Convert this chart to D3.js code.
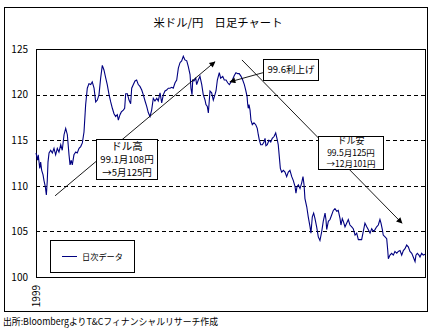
<!DOCTYPE html>
<html><head><meta charset="utf-8">
<script src="https://cdn.jsdelivr.net/npm/d3@7"></script>
<style>body{margin:0;background:#fff}svg{display:block}text{font-family:"Noto Sans CJK JP","Liberation Sans",sans-serif;fill:#000}</style>
</head><body>
<script>
const title = "米ドル/円　日足チャート";
const source = "出所:BloombergよりT&Cフィナンシャルリサーチ作成";
const legendLabel = "日次データ";
const yearLabel = "1999";
const yTicks = [100, 105, 110, 115, 120, 125];
const gridValues = [105, 110, 115, 120];
// trading-day index in 1999 (0..260) and USD/JPY close
const days = [0,1,1.5,2.5,3.1,3.8,4.7,5.3,6.2,6.9,7.5,8,8.7,9.8,10.9,12,13.1,14.2,15.3,16.5,17.5,18.7,19.8,20.9,22,22.7,23.5,24.2,25.3,26.5,27.5,28.7,29.8,30.9,32,33.1,34.2,35.3,36.5,37.5,38.7,39.8,40.9,42,43.1,44.2,45.3,46.5,47.5,48.7,49.8,50.9,52,53.1,54.2,54.9,56,56.9,58.2,59.1,59.8,60.9,62,63.1,63.8,64.9,66,67.1,68.2,69.3,70.5,71.5,72.7,73.8,74.9,76,77.1,78.2,79.3,80.5,81.5,82.7,83.8,84.9,86,87.1,88.2,89.3,90.5,91.5,92.7,93.8,94.9,96,97.1,98.2,99.3,100.5,101.5,102.7,103.3,104,104.5,105.3,106.5,107.1,108.2,109.3,110.5,111.5,112.7,113.3,114.2,114.9,115.5,116,117.1,118.2,119.3,120,120.9,122.2,123.1,124.5,125.5,126.7,127.8,128.9,130.9,132.2,133.3,134.5,135.5,136.7,137.8,138.9,139.8,140.7,141.1,141.5,142,142.7,143.3,144.2,145.3,146.5,147.5,148.2,148.9,149.8,150.9,152,152.7,153.3,154.2,155.3,156.5,157.5,158.7,159.8,160.9,161.5,162.2,162.9,163.8,164.9,166,167.1,168.2,169.3,170.5,171.5,172.7,173.3,174,174.9,176,177.1,178,178.7,179.3,180.5,181.5,182.7,183.3,184.2,185.1,186,187.1,188.2,189.3,190.5,191.5,192.7,193.3,193.8,194.9,196,197.1,198.2,199.3,200.5,201.5,202.7,203.3,204.2,204.9,206,207.1,208.2,209.3,210.5,211.5,212.7,213.8,214.9,216,217.1,218.2,219.3,220.5,221.5,222.7,223.8,224.9,226,227.1,228.2,229.3,230,230.9,231.5,232.7,233.8,234.5,234.9,236,237.1,238.2,239.3,240.5,241.5,242.7,243.8,244.9,246,247.1,248.2,249.3,250.5,251.5,252.7,253.3,254.2,255.3,256,257.1,258.2,259.3];
const rates = [113.6,112.8,113.4,111.9,112.6,111.7,111.2,110.6,109.9,109.0,110.5,112.6,113.6,113.9,113.6,114.1,113.4,114.1,113.7,114.5,113.9,115.6,116.3,115.6,113.4,112.3,112.8,112.3,113.4,113.7,113.6,114.1,114.3,114.7,115.9,118.9,120.7,121.2,121.1,121.4,120.7,119.2,119.4,120.0,121.8,123.2,122.7,121.8,121.1,120.0,119.2,118.5,117.9,117.6,117.8,117.2,117.8,118.1,118.3,118.5,120.1,120.1,119.4,119.0,120.7,121.1,121.5,121.6,121.1,120.9,120.5,120.0,119.3,118.7,118.0,117.6,118.3,119.6,119.3,119.6,119.3,120.2,119.1,120.0,120.4,120.5,120.7,120.7,120.8,120.7,121.3,121.6,122.9,123.5,123.7,124.2,123.8,123.7,123.1,122.2,120.7,120.0,121.6,121.5,121.8,121.1,121.6,122.0,121.1,120.0,119.4,118.9,118.7,118.0,119.3,120.4,120.2,119.4,120.0,120.4,121.6,122.4,121.8,122.0,121.6,121.6,121.3,121.1,121.6,122.1,122.4,122.3,122.3,122.0,121.6,121.1,120.5,119.8,119.0,118.5,118.9,118.3,117.2,116.7,116.9,116.7,116.3,115.6,115.0,114.5,114.5,114.8,115.2,114.4,114.5,115.0,114.8,115.2,115.4,115.8,115.0,114.5,113.2,111.9,111.5,111.7,111.5,111.0,111.5,111.7,111.0,110.6,109.9,109.2,109.9,110.1,109.7,110.3,111.0,110.1,108.6,107.7,106.6,105.5,104.8,106.6,107.0,106.4,105.5,104.4,104.0,105.0,106.1,107.0,106.3,105.2,106.1,106.3,106.8,107.3,107.5,107.2,107.3,106.4,105.7,106.4,106.1,105.5,105.9,106.3,105.7,105.5,105.3,104.6,104.8,104.1,104.1,104.1,105.0,105.9,105.5,105.2,104.8,105.3,105.0,105.2,105.5,105.7,106.3,105.9,105.2,104.6,104.4,104.2,102.9,102.0,102.4,102.6,102.4,102.8,102.6,102.8,102.9,102.4,102.9,103.1,103.5,103.3,102.8,102.6,102.2,101.7,102.4,102.6,102.4,102.2,102.6,102.4,102.5];
// annotation arrows [fromDay, fromRate, toDay, toRate]
const arrows = [[12.7,108.9,119.3,123.6],[151.3,122.4,129.3,121.4],[137.3,123.8,244,105.9]];
// annotation boxes [day0, rateTop, day1, rateBottom], text lines, font sizes, line offsets (fraction of box height)
const boxes = [
  {d0:40, r0:115.13, d1:80.7, r1:110.75, lines:["ドル高","99.1月108円","→5月125円"], sizes:[10.5,9.5,9.5], pos:[0.16,0.5,0.83]},
  {d0:188, r0:115.46, d1:231.3, r1:111.84, lines:["ドル安","99.5月125円","→12月101円"], sizes:[9,8.5,8.5], pos:[0.14,0.51,0.84]},
  {d0:151.3, r0:123.9, d1:188, r1:121.6, lines:["99.6利上げ"], sizes:[9.5], pos:[0.5]}
];

const W = 436, H = 333;
const svg = d3.select("body").append("svg").attr("width", W).attr("height", H);
svg.append("rect").attr("width", W).attr("height", H).attr("fill", "#fff");
svg.append("rect").attr("x", 4.5).attr("y", 7.5).attr("width", 423).attr("height", 304)
  .attr("fill", "none").attr("stroke", "#000");

const x = d3.scaleLinear().domain([0, 260]).range([36, 426]);
const y = d3.scaleLinear().domain([100, 125]).range([277, 49]);

svg.append("text").attr("x", 218).attr("y", 27).attr("text-anchor", "middle")
  .attr("font-size", 11.5).attr("textLength", 129).attr("lengthAdjust", "spacingAndGlyphs").text(title);

// grid
svg.append("g").selectAll("line").data(gridValues).join("line")
  .attr("x1", x(0)).attr("x2", x(260))
  .attr("y1", d => Math.round(y(d)) + 0.5).attr("y2", d => Math.round(y(d)) + 0.5)
  .attr("stroke", "#000").attr("stroke-dasharray", "4,3").attr("shape-rendering", "crispEdges");

// frame
svg.append("rect").attr("x", x(0) + 0.5).attr("y", y(125) + 0.5)
  .attr("width", x(260) - x(0) - 1).attr("height", y(100) - y(125))
  .attr("fill", "none").attr("stroke", "#000").attr("shape-rendering", "crispEdges");

// y axis
const ya = svg.append("g").attr("transform", `translate(${x(0)},0)`)
  .call(d3.axisLeft(y).tickValues(yTicks).tickSize(0).tickPadding(8).tickFormat(d3.format("d")));
ya.select(".domain").remove();
ya.selectAll("text").attr("font-size", 10).attr("font-family", "'Liberation Sans',sans-serif");

// x axis
const xa = svg.append("g").attr("transform", `translate(0,${y(100)})`)
  .call(d3.axisBottom(x).tickValues([0]).tickSize(0).tickFormat(() => yearLabel));
xa.select(".domain").remove();
xa.selectAll("text").attr("font-size", 10).attr("font-family", "'Liberation Sans',sans-serif")
  .attr("text-anchor", "end").attr("transform", "rotate(-90)").attr("x", -8).attr("y", 0).attr("dy", "0.35em");

// data line
const line = d3.line().x((d, i) => x(days[i])).y(d => y(d));
svg.append("path").datum(rates).attr("d", line).attr("fill", "none")
  .attr("stroke", "#000080").attr("stroke-width", 1.1);

// arrows
svg.append("defs").append("marker").attr("id", "ah").attr("viewBox", "0 0 10 10")
  .attr("refX", 9).attr("refY", 5).attr("markerWidth", 8).attr("markerHeight", 6)
  .attr("markerUnits", "userSpaceOnUse").attr("orient", "auto")
  .append("path").attr("d", "M0,0L10,5L0,10z").attr("fill", "#000");
svg.append("g").selectAll("line").data(arrows).join("line")
  .attr("x1", d => x(d[0])).attr("y1", d => y(d[1])).attr("x2", d => x(d[2])).attr("y2", d => y(d[3]))
  .attr("stroke", "#000").attr("stroke-width", 0.9).attr("marker-end", "url(#ah)");

// boxes
boxes.forEach(b => {
  const bx = Math.round(x(b.d0)) + 0.5, by = Math.round(y(b.r0)) + 0.5;
  const bw = Math.round(x(b.d1) - x(b.d0)), bh = Math.round(y(b.r1) - y(b.r0));
  svg.append("rect").attr("x", bx).attr("y", by).attr("width", bw).attr("height", bh)
    .attr("fill", "#fff").attr("stroke", "#000").attr("shape-rendering", "crispEdges");
  b.lines.forEach((t, i) => {
    svg.append("text").attr("x", bx + bw / 2).attr("y", by + bh * b.pos[i]).attr("dy", "0.36em")
      .attr("text-anchor", "middle").attr("font-size", b.sizes[i]).text(t);
  });
});

// legend
svg.append("rect").attr("x", 50.5).attr("y", 240.5).attr("width", 84).attr("height", 32)
  .attr("fill", "#fff").attr("stroke", "#000").attr("shape-rendering", "crispEdges");
svg.append("line").attr("x1", 62).attr("x2", 77).attr("y1", 256.5).attr("y2", 256.5)
  .attr("stroke", "#000080").attr("stroke-width", 1);
svg.append("text").attr("x", 82).attr("y", 256.5).attr("dy", "0.36em").attr("font-size", 8.5)
  .attr("textLength", 41).attr("lengthAdjust", "spacingAndGlyphs").text(legendLabel);

// source
svg.append("text").attr("x", 3).attr("y", 325).attr("font-size", 9.5)
  .attr("textLength", 215).attr("lengthAdjust", "spacingAndGlyphs").text(source);
</script>
</body></html>
